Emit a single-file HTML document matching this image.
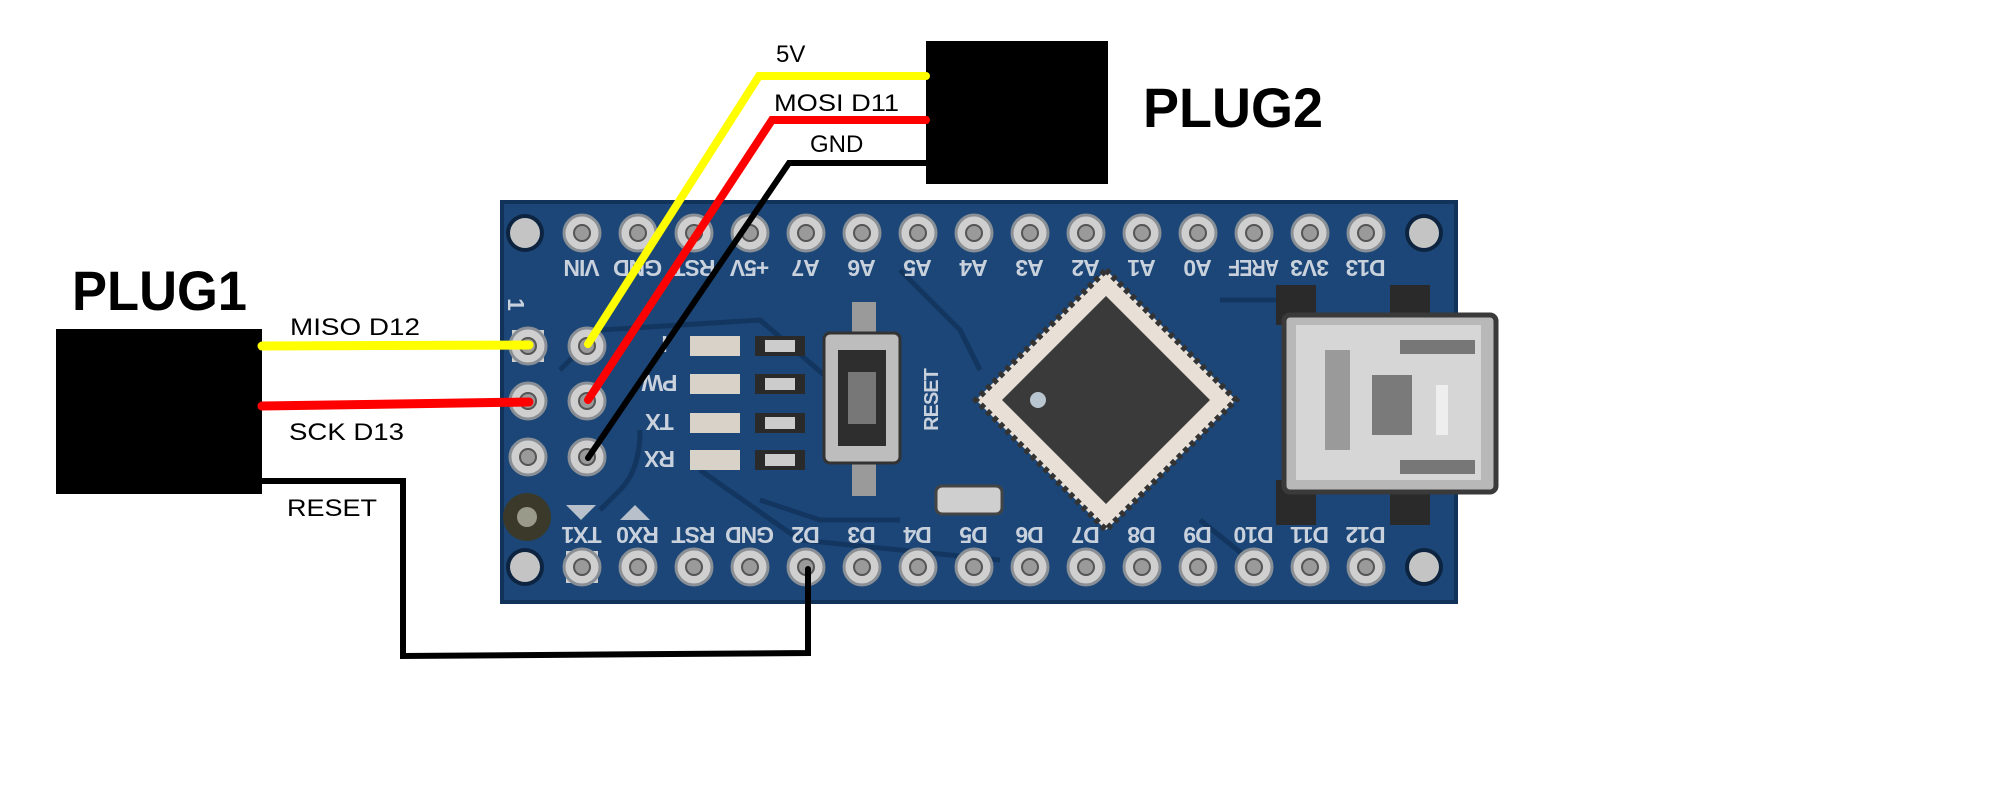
<!DOCTYPE html>
<html><head><meta charset="utf-8"><style>
html,body{margin:0;padding:0;background:#fff;}
svg{display:block}
.lab{font-family:"Liberation Sans",sans-serif;font-size:24px;fill:#000}
.big{font-family:"Liberation Sans",sans-serif;font-size:56px;fill:#000}
.pl{font-family:"Liberation Sans",sans-serif;font-size:23px;fill:#c9d1dc;font-weight:bold;letter-spacing:-1px}
</style></head><body>
<svg width="2000" height="805" viewBox="0 0 2000 805" xmlns="http://www.w3.org/2000/svg">
<defs>
<g id="pin"><circle r="18" fill="#cfcfcf" stroke="#8a8f96" stroke-width="3"/><circle r="8" fill="#9a9a9a" stroke="#555" stroke-width="2"/></g>
<g id="hole"><circle r="19" fill="#0d2440"/><circle r="15" fill="#c4c4c4"/></g>
</defs>
<rect x="502" y="202" width="954" height="400" fill="#1b4677"/>
<rect x="502" y="202" width="954" height="400" fill="none" stroke="#123359" stroke-width="4"/>
<g fill="none" stroke="#133660" stroke-width="5">
<path d="M560 370 L600 330 L760 320 L830 380"/>
<path d="M640 430 Q640 470 620 490 L600 510"/>
<path d="M700 470 L800 540 L1000 560"/>
<path d="M900 270 L960 330 L980 370"/>
<path d="M1220 300 L1280 300"/>
<path d="M1200 520 L1250 560"/>
<path d="M760 500 L820 520 L900 520"/>
</g>
<use href="#hole" x="525" y="233"/><use href="#hole" x="1424" y="233"/>
<use href="#hole" x="525" y="567"/><use href="#hole" x="1424" y="567"/>
<circle cx="527" cy="517" r="24" fill="#3b3a2a"/><circle cx="527" cy="517" r="10" fill="#9a9a8a"/>
<g>
<use href="#pin" x="582" y="233"/><use href="#pin" x="638" y="233"/><use href="#pin" x="694" y="233"/><use href="#pin" x="750" y="233"/><use href="#pin" x="806" y="233"/><use href="#pin" x="862" y="233"/><use href="#pin" x="918" y="233"/><use href="#pin" x="974" y="233"/><use href="#pin" x="1030" y="233"/><use href="#pin" x="1086" y="233"/><use href="#pin" x="1142" y="233"/><use href="#pin" x="1198" y="233"/><use href="#pin" x="1254" y="233"/><use href="#pin" x="1310" y="233"/><use href="#pin" x="1366" y="233"/>
<rect x="566" y="551" width="32" height="32" fill="#cfcfcf"/>
<use href="#pin" x="582" y="567"/><use href="#pin" x="638" y="567"/><use href="#pin" x="694" y="567"/><use href="#pin" x="750" y="567"/><use href="#pin" x="806" y="567"/><use href="#pin" x="862" y="567"/><use href="#pin" x="918" y="567"/><use href="#pin" x="974" y="567"/><use href="#pin" x="1030" y="567"/><use href="#pin" x="1086" y="567"/><use href="#pin" x="1142" y="567"/><use href="#pin" x="1198" y="567"/><use href="#pin" x="1254" y="567"/><use href="#pin" x="1310" y="567"/><use href="#pin" x="1366" y="567"/>
<rect x="512" y="330" width="32" height="32" fill="#cfcfcf"/>
<use href="#pin" x="528" y="346"/><use href="#pin" x="587" y="346"/>
<use href="#pin" x="528" y="401"/><use href="#pin" x="587" y="401"/>
<use href="#pin" x="528" y="457"/><use href="#pin" x="587" y="457"/>
</g>
<g class="pl" text-anchor="middle">
<g transform="rotate(180 582 269)"><text x="582" y="278">VIN</text></g>
<g transform="rotate(180 638 269)"><text x="638" y="278">GND</text></g>
<g transform="rotate(180 694 269)"><text x="694" y="278">RST</text></g>
<g transform="rotate(180 750 269)"><text x="750" y="278">+5V</text></g>
<g transform="rotate(180 806 269)"><text x="806" y="278">A7</text></g>
<g transform="rotate(180 862 269)"><text x="862" y="278">A6</text></g>
<g transform="rotate(180 918 269)"><text x="918" y="278">A5</text></g>
<g transform="rotate(180 974 269)"><text x="974" y="278">A4</text></g>
<g transform="rotate(180 1030 269)"><text x="1030" y="278">A3</text></g>
<g transform="rotate(180 1086 269)"><text x="1086" y="278">A2</text></g>
<g transform="rotate(180 1142 269)"><text x="1142" y="278">A1</text></g>
<g transform="rotate(180 1198 269)"><text x="1198" y="278">A0</text></g>
<g transform="rotate(180 1254 269)"><text x="1254" y="278" textLength="50" lengthAdjust="spacingAndGlyphs">AREF</text></g>
<g transform="rotate(180 1310 269)"><text x="1310" y="278">3V3</text></g>
<g transform="rotate(180 1366 269)"><text x="1366" y="278">D13</text></g>
<g transform="rotate(180 582 536)"><text x="582" y="545">TX1</text></g>
<g transform="rotate(180 638 536)"><text x="638" y="545">RX0</text></g>
<g transform="rotate(180 694 536)"><text x="694" y="545">RST</text></g>
<g transform="rotate(180 750 536)"><text x="750" y="545" textLength="48" lengthAdjust="spacingAndGlyphs">GND</text></g>
<g transform="rotate(180 806 536)"><text x="806" y="545">D2</text></g>
<g transform="rotate(180 862 536)"><text x="862" y="545">D3</text></g>
<g transform="rotate(180 918 536)"><text x="918" y="545">D4</text></g>
<g transform="rotate(180 974 536)"><text x="974" y="545">D5</text></g>
<g transform="rotate(180 1030 536)"><text x="1030" y="545">D6</text></g>
<g transform="rotate(180 1086 536)"><text x="1086" y="545">D7</text></g>
<g transform="rotate(180 1142 536)"><text x="1142" y="545">D8</text></g>
<g transform="rotate(180 1198 536)"><text x="1198" y="545">D9</text></g>
<g transform="rotate(180 1254 536)"><text x="1254" y="545">D10</text></g>
<g transform="rotate(180 1310 536)"><text x="1310" y="545">D11</text></g>
<g transform="rotate(180 1366 536)"><text x="1366" y="545">D12</text></g>
<g transform="rotate(90 517 304)"><text x="517" y="313">1</text></g>
<g transform="rotate(180 665 345)"><text x="665" y="354">I</text></g>
<g transform="rotate(180 660 384)"><text x="660" y="393">PW</text></g>
<g transform="rotate(180 660 423)"><text x="660" y="432">TX</text></g>
<g transform="rotate(180 660 460)"><text x="660" y="469">RX</text></g>
<g transform="rotate(-90 930 400)"><text x="930" y="408" font-size="20">RESET</text></g>
</g>
<polygon points="566,505 596,505 581,520" fill="#b8c0cc"/>
<polygon points="620,520 650,520 635,505" fill="#b8c0cc"/>
<g>
<rect x="690" y="336" width="50" height="20" fill="#d8d2c8"/><rect x="755" y="336" width="50" height="20" fill="#2a2a2a"/><rect x="765" y="340" width="30" height="12" fill="#ccc"/>
<rect x="690" y="374" width="50" height="20" fill="#d8d2c8"/><rect x="755" y="374" width="50" height="20" fill="#2a2a2a"/><rect x="765" y="378" width="30" height="12" fill="#ccc"/>
<rect x="690" y="413" width="50" height="20" fill="#d8d2c8"/><rect x="755" y="413" width="50" height="20" fill="#2a2a2a"/><rect x="765" y="417" width="30" height="12" fill="#ccc"/>
<rect x="690" y="450" width="50" height="20" fill="#d8d2c8"/><rect x="755" y="450" width="50" height="20" fill="#2a2a2a"/><rect x="765" y="454" width="30" height="12" fill="#ccc"/>
</g>
<rect x="852" y="302" width="24" height="34" fill="#9a9a9a"/><rect x="852" y="462" width="24" height="34" fill="#9a9a9a"/>
<rect x="824" y="333" width="76" height="130" rx="6" fill="#bdbdbd" stroke="#333" stroke-width="3"/>
<rect x="838" y="350" width="48" height="96" fill="#2e2e2e"/><rect x="848" y="372" width="28" height="52" fill="#777"/>
<rect x="936" y="486" width="66" height="28" rx="6" fill="#cfcfcf" stroke="#444" stroke-width="3"/>
<polygon points="1106,270 1236,400 1106,530 976,400" fill="#e8e0d6" stroke="#333" stroke-width="6" stroke-dasharray="5 4"/>
<polygon points="1106,296 1210,400 1106,504 1002,400" fill="#3a3a3a"/>
<circle cx="1038" cy="400" r="8" fill="#b9c6d0"/>
<rect x="1276" y="285" width="40" height="40" fill="#2a2a2a"/><rect x="1390" y="285" width="40" height="40" fill="#2a2a2a"/>
<rect x="1276" y="480" width="40" height="45" fill="#2a2a2a"/><rect x="1390" y="480" width="40" height="45" fill="#2a2a2a"/>
<rect x="1284" y="315" width="212" height="177" rx="6" fill="#b8b8b8" stroke="#3a3a3a" stroke-width="5"/>
<rect x="1296" y="325" width="185" height="155" fill="#d6d6d6"/>
<path d="M1325 350 L1350 350 L1350 450 L1325 450 Z" fill="#9a9a9a"/>
<rect x="1372" y="375" width="40" height="60" fill="#7a7a7a"/>
<rect x="1400" y="340" width="75" height="14" fill="#777"/><rect x="1400" y="460" width="75" height="14" fill="#777"/>
<rect x="1436" y="385" width="12" height="50" fill="#eee"/>
<rect x="56" y="329" width="206" height="165" fill="#000"/>
<rect x="926" y="41" width="182" height="143" fill="#000"/>
<text class="big" x="72" y="310" textLength="175" lengthAdjust="spacingAndGlyphs" font-weight="bold">PLUG1</text>
<text class="big" x="1143" y="127" textLength="180" lengthAdjust="spacingAndGlyphs" font-weight="bold">PLUG2</text>
<g fill="none" stroke-linejoin="miter" stroke-linecap="round">
<polyline points="262,346 529,345" stroke="#ffff00" stroke-width="9"/>
<polyline points="262,406 529,402" stroke="#ff0000" stroke-width="9"/>
<polyline points="926,76 759,76 588,344" stroke="#ffff00" stroke-width="8"/>
<polyline points="926,120 772,120 588,400" stroke="#ff0000" stroke-width="8"/>
<polyline points="926,163 789,163 588,458" stroke="#000" stroke-width="6"/>
<polyline points="262,481 403,481 403,656 808,653 808,569" stroke="#000" stroke-width="6"/>
</g>
<text class="lab" x="776" y="62">5V</text>
<text class="lab" x="774" y="111" textLength="125" lengthAdjust="spacingAndGlyphs">MOSI D11</text>
<text class="lab" x="810" y="152">GND</text>
<text class="lab" x="290" y="335" textLength="130" lengthAdjust="spacingAndGlyphs">MISO D12</text>
<text class="lab" x="289" y="440" textLength="115" lengthAdjust="spacingAndGlyphs">SCK D13</text>
<text class="lab" x="287" y="516" textLength="90" lengthAdjust="spacingAndGlyphs">RESET</text>
</svg>
</body></html>
